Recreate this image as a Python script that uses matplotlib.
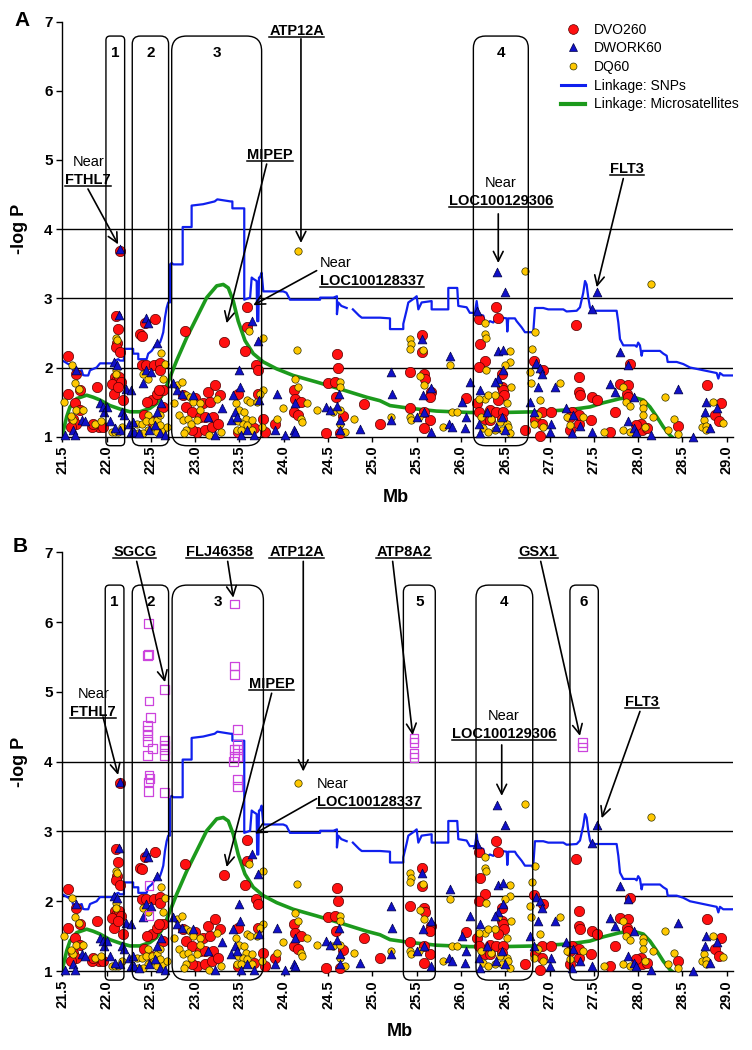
#!/usr/bin/env python3
"""
plot.py - association (-log P) and linkage along 21.5-29 Mb, panels A and B
"""
import numpy as np
import matplotlib
matplotlib.use('Agg')
import matplotlib.pyplot as plt
from matplotlib.lines import Line2D
from matplotlib.patches import FancyBboxPatch

# ---- data: (Mb, -log P) ----
DVO260 = [
    (21.57, 2.17), (21.65, 1.91), (21.57, 1.62), (21.70, 1.67), (21.64, 1.48), (21.70, 1.38),
    (21.62, 1.26), (21.65, 1.19), (21.60, 1.14), (21.89, 1.72), (21.91, 1.14), (21.83, 1.14),
    (21.85, 1.19), (21.96, 1.14),
    (22.15, 3.69), (22.11, 2.75), (22.13, 2.56), (22.12, 2.36), (22.11, 2.30), (22.15, 2.23),
    (22.09, 1.86), (22.11, 1.81), (22.14, 1.86), (22.06, 1.76), (22.16, 1.79), (22.08, 1.62),
    (22.18, 1.53), (22.13, 1.72),
    (22.38, 2.48), (22.40, 2.46), (22.43, 2.64), (22.55, 2.70), (22.40, 2.03), (22.45, 2.03),
    (22.53, 2.03), (22.60, 2.06), (22.60, 1.97), (22.51, 1.53), (22.57, 1.62), (22.64, 1.67),
    (22.42, 1.31), (22.50, 1.22), (22.64, 1.43), (22.59, 1.67), (22.46, 1.50),
    (22.89, 2.53), (22.86, 1.60), (22.90, 1.43), (22.96, 1.36), (23.15, 1.65), (23.22, 1.74),
    (23.09, 1.48), (23.17, 1.50), (23.05, 1.29), (23.11, 1.29), (23.20, 1.29), (23.28, 1.60),
    (23.32, 2.37), (23.02, 1.07), (22.96, 1.10), (23.11, 1.10), (23.19, 1.14), (23.48, 1.62),
    (23.56, 2.24), (23.59, 2.58), (23.59, 2.88), (23.69, 2.03), (23.71, 1.96), (23.71, 1.62),
    (23.48, 1.07), (23.66, 1.12), (23.77, 1.26), (23.79, 1.07), (23.00, 1.56), (23.26, 1.19),
    (23.90, 1.19), (24.11, 1.67), (24.13, 1.55), (24.20, 1.50), (24.11, 1.36), (24.16, 1.31),
    (24.50, 1.77), (24.60, 2.19), (24.61, 2.00), (24.58, 1.79), (24.59, 1.57), (24.67, 1.30),
    (24.48, 1.05), (24.63, 1.05), (24.90, 1.47), (25.09, 1.19),
    (25.42, 1.41), (25.43, 1.93), (25.56, 2.47), (25.56, 2.22), (25.58, 1.91), (25.59, 1.84),
    (25.66, 1.64), (25.65, 1.57), (25.58, 1.36), (25.65, 1.24), (25.58, 1.12), (26.06, 1.56),
    (26.40, 2.87), (26.42, 2.71), (26.20, 2.70), (26.21, 2.34), (26.27, 2.10), (26.20, 2.01),
    (26.46, 1.91), (26.46, 1.72), (26.48, 1.67), (26.49, 1.60), (26.42, 1.53), (26.18, 1.48),
    (26.20, 1.36), (26.33, 1.38), (26.40, 1.36), (26.48, 1.36), (26.46, 1.26), (26.27, 1.25),
    (26.33, 1.24), (26.72, 1.10),
    (26.82, 2.09), (26.93, 1.96), (26.91, 1.36), (27.02, 1.36), (26.84, 1.24), (26.91, 1.19),
    (26.89, 1.01), (27.25, 1.36), (27.23, 1.29), (27.33, 1.19), (27.23, 1.10), (27.33, 1.31),
    (27.30, 2.61), (27.33, 1.86), (27.33, 1.65), (27.34, 1.60), (27.48, 1.57), (27.53, 1.53),
    (27.47, 1.24), (27.68, 1.07), (27.74, 1.36), (27.79, 1.76), (27.91, 2.05), (27.89, 1.74),
    (27.87, 1.62), (27.89, 1.57), (28.03, 1.19), (28.04, 1.10), (28.10, 1.12), (27.98, 1.17),
    (28.45, 1.15), (28.78, 1.74), (28.94, 1.48), (28.87, 1.31), (28.91, 1.22),
]

DWORK60 = [
    (21.53, 1.02), (21.62, 1.10), (21.64, 1.02), (21.66, 1.96), (21.72, 1.24), (21.76, 1.22),
    (21.93, 1.48), (21.96, 1.43), (21.97, 1.36), (22.00, 1.43),
    (22.15, 3.71), (22.14, 2.76), (22.08, 2.08), (22.12, 2.04), (22.04, 1.22), (22.15, 1.10),
    (22.09, 1.12), (22.17, 1.36), (22.20, 1.31),
    (22.22, 1.69), (22.28, 1.68), (22.25, 1.19), (22.28, 1.07),
    (22.44, 2.71), (22.47, 2.64), (22.57, 2.36), (22.45, 1.96), (22.41, 1.77), (22.50, 1.93),
    (22.31, 1.07), (22.37, 1.05), (22.48, 1.10), (22.55, 1.17), (22.60, 1.05), (22.66, 1.02),
    (22.30, 1.21), (22.57, 1.36), (22.62, 1.48),
    (22.75, 1.77), (22.79, 1.67), (22.85, 1.62), (22.98, 1.60), (23.30, 1.41), (23.15, 1.29),
    (23.22, 1.02), (23.49, 1.96), (23.51, 1.72), (23.43, 1.60), (23.45, 1.36), (23.41, 1.24),
    (23.47, 1.29), (23.52, 1.02), (23.58, 1.10), (23.66, 1.02), (23.64, 2.67), (23.71, 2.39),
    (23.72, 1.53),
    (23.92, 1.62), (23.90, 1.10), (24.01, 1.02), (24.11, 1.10), (24.13, 1.07), (24.13, 1.48),
    (24.48, 1.43), (24.52, 1.38), (24.62, 1.62), (24.60, 1.45), (24.63, 1.24), (24.63, 1.10),
    (24.86, 1.11),
    (25.21, 1.93), (25.22, 1.61), (25.21, 1.24), (25.56, 2.41), (25.66, 1.71), (25.57, 1.60),
    (25.58, 1.36), (25.50, 1.29), (25.66, 1.07), (25.88, 2.17), (25.86, 1.19), (25.90, 1.14),
    (26.01, 1.50), (26.10, 1.79), (26.06, 1.29), (26.05, 1.12),
    (26.41, 3.38), (26.50, 3.09), (26.18, 2.82), (26.42, 2.24), (26.47, 2.26), (26.48, 1.96),
    (26.42, 1.84), (26.38, 1.79), (26.21, 1.67), (26.20, 1.19), (26.21, 1.05), (26.40, 1.14),
    (26.50, 1.10), (26.46, 1.29), (26.29, 1.36),
    (26.85, 2.06), (26.89, 2.00), (26.91, 1.91), (26.87, 1.72), (26.78, 1.50), (26.82, 1.36),
    (27.02, 1.19), (27.00, 1.07), (27.06, 1.72), (27.19, 1.41), (27.26, 1.31), (27.34, 1.15),
    (27.25, 1.05), (27.48, 1.07), (27.48, 2.84), (27.53, 3.09), (27.68, 1.76), (27.74, 1.65),
    (27.79, 2.22), (27.89, 2.03), (27.95, 1.57), (27.89, 1.22), (27.95, 1.12), (27.98, 1.07),
    (28.15, 1.02), (28.45, 1.69), (28.62, 1.00), (28.75, 1.36), (28.77, 1.50), (28.89, 1.41),
    (28.81, 1.12),
]

DQ60 = [
    (21.61, 2.04), (21.64, 1.77), (21.69, 1.69), (21.52, 1.50), (21.66, 1.38), (21.73, 1.38),
    (21.62, 1.24), (21.87, 1.19), (21.94, 1.22), (21.60, 1.30),
    (22.11, 2.43), (22.12, 2.40), (22.11, 1.97), (22.11, 1.91), (22.06, 1.07), (22.09, 1.07),
    (22.13, 1.07), (22.17, 1.14),
    (22.62, 2.21), (22.66, 2.05), (22.41, 1.91), (22.47, 1.84), (22.64, 1.84), (22.47, 1.31),
    (22.34, 1.19), (22.40, 1.19), (22.45, 1.22), (22.51, 1.22), (22.57, 1.24), (22.60, 1.31),
    (22.53, 1.14), (22.47, 1.10), (22.41, 1.05), (22.57, 1.07), (22.64, 1.10), (22.68, 1.14),
    (22.60, 1.17), (22.35, 1.05),
    (22.79, 1.74), (22.85, 1.79), (22.90, 1.60), (22.94, 1.57), (22.98, 1.50), (23.06, 1.48),
    (22.76, 1.48), (22.82, 1.31), (22.86, 1.24), (22.92, 1.26), (22.95, 1.19), (23.02, 1.24),
    (22.90, 1.10), (22.87, 1.05), (23.16, 1.02), (23.29, 1.07), (23.25, 1.55), (23.05, 1.38),
    (23.61, 2.53), (23.77, 2.43), (23.77, 1.67), (23.46, 1.48), (23.50, 1.38), (23.55, 1.36),
    (23.58, 1.53), (23.62, 1.50), (23.57, 1.26), (23.48, 1.22), (23.54, 1.19), (23.59, 1.17),
    (23.64, 1.24), (23.47, 1.10), (23.52, 1.10), (23.64, 1.10), (23.70, 1.50), (23.75, 1.14),
    (23.73, 1.62),
    (23.92, 1.26), (23.99, 1.41), (24.16, 3.69), (24.15, 2.25), (24.13, 1.83), (24.16, 1.72),
    (24.20, 1.26), (24.21, 1.21), (24.37, 1.38), (24.26, 1.48), (24.63, 1.79), (24.63, 1.72),
    (24.56, 1.36), (24.63, 1.38), (24.63, 1.19), (24.69, 1.07), (24.79, 1.26),
    (25.21, 1.29), (25.43, 1.29), (25.44, 1.24), (25.43, 2.41), (25.44, 2.34), (25.43, 2.27),
    (25.57, 2.25), (25.54, 1.88), (25.58, 1.74), (25.53, 1.29), (25.88, 2.03), (25.80, 1.14),
    (25.90, 1.36), (25.96, 1.36),
    (26.27, 2.64), (26.27, 2.48), (26.28, 2.43), (26.55, 2.24), (26.55, 2.08), (26.28, 1.97),
    (26.50, 2.03), (26.42, 1.77), (26.57, 1.72), (26.27, 1.55), (26.31, 1.60), (26.38, 1.60),
    (26.52, 1.48), (26.23, 1.29), (26.34, 1.26), (26.44, 1.21), (26.52, 1.19), (26.25, 1.12),
    (26.38, 1.10), (26.46, 1.10), (26.53, 1.14), (26.55, 1.05), (26.31, 1.07), (26.72, 3.39),
    (26.20, 1.55),
    (26.83, 2.51), (26.80, 2.27), (26.78, 1.93), (26.79, 1.77), (26.89, 1.53), (26.87, 1.31),
    (26.82, 1.19), (26.93, 1.14), (27.12, 1.77), (27.20, 1.29), (27.23, 1.17), (27.38, 1.29),
    (27.61, 1.07), (27.83, 1.72), (27.86, 1.50), (27.91, 1.45), (28.06, 1.48), (28.06, 1.41),
    (28.06, 1.31), (27.83, 1.10), (27.91, 1.07), (28.08, 1.14), (28.17, 1.29), (28.15, 3.21),
    (28.30, 1.58), (28.40, 1.26), (28.34, 1.10), (28.45, 1.04), (28.74, 1.24), (28.72, 1.14),
    (28.76, 1.16), (28.77, 1.10), (28.85, 1.50), (28.96, 1.20),
]

# open magenta squares, panel B only
EXTRA_B = [
    (22.47, 5.98), (22.47, 5.54), (22.46, 5.52), (22.65, 5.03), (22.48, 4.87), (22.50, 4.63),
    (22.46, 4.52), (22.46, 4.45), (22.46, 4.37), (22.46, 4.29), (22.52, 4.19), (22.46, 4.09),
    (22.65, 4.31), (22.65, 4.24), (22.65, 4.17), (22.65, 4.09), (22.48, 3.81), (22.49, 3.76),
    (22.47, 3.71), (22.47, 3.57), (22.65, 3.56), (22.48, 2.23), (22.48, 1.80),
    (23.44, 6.26), (23.44, 5.37), (23.44, 5.25), (23.475, 4.46), (23.475, 4.25), (23.44, 4.17),
    (23.475, 4.17), (23.44, 4.07), (23.475, 4.07), (23.43, 4.00), (23.475, 3.75), (23.475, 3.64),
    (25.47, 4.33), (25.47, 4.27), (25.47, 4.12), (25.47, 4.06), (27.37, 4.28), (27.37, 4.21),
]

# linkage curves (Mb, LOD-scale); NaN = gap in the SNP trace
LINK_SNP = [
    (21.50, 2.10), (21.53, 2.08), (21.568, 2.05), (21.606, 2.05), (21.62, 1.96), (21.643, 1.94),
    (21.68, 1.94), (21.719, 1.96), (21.735, 1.89), (21.756, 1.885), (21.793, 1.885),
    (21.813, 1.96), (21.85, 1.98), (21.888, 2.00), (21.926, 2.06), (22.076, 2.06), (22.095, 2.10),
    (22.132, 2.12), (22.151, 2.10), (22.196, 2.10), (22.196, 2.27), (22.30, 2.27), (22.30, 2.20),
    (22.358, 2.20), (22.358, 2.12), (22.452, 2.12), (22.47, 2.20), (22.509, 2.24), (22.546, 2.31),
    (22.565, 2.34), (22.603, 2.36), (22.622, 2.43), (22.64, 2.51), (22.659, 2.72), (22.678, 2.86),
    (22.696, 2.94), (22.716, 2.94), (22.716, 3.49), (22.735, 3.51), (22.753, 3.49),
    (22.859, 3.49), (22.859, 4.03), (22.96, 4.03), (22.96, 4.34), (23.09, 4.36), (23.22, 4.40),
    (23.25, 4.43), (23.40, 4.40), (23.42, 4.40), (23.42, 4.30), (23.554, 4.30), (23.554, 2.98),
    (23.60, 3.00), (23.62, 3.01), (23.638, 3.30), (23.657, 3.28), (23.694, 3.25), (23.70, 2.67),
    (23.713, 2.67), (23.72, 3.30), (23.731, 3.30), (23.75, 3.37), (23.769, 3.10), (23.994, 3.10),
    (24.03, 3.08), (24.07, 2.98), (24.41, 2.98), (24.41, 3.01), (24.56, 3.01), (24.60, 3.03),
    (24.60, 2.77), (24.615, 2.94), (24.65, 2.89), (24.71, 2.86), (np.nan, np.nan),
    (24.78, 2.84), (24.85, 2.75), (24.88, 2.72), (25.086, 2.72), (25.199, 2.71), (25.199, 2.555),
    (25.349, 2.555), (25.349, 2.63), (25.387, 2.83), (25.406, 2.94), (25.462, 2.99),
    (25.50, 3.03), (25.519, 2.84), (25.556, 2.94), (25.669, 2.96), (25.669, 2.84),
    (25.857, 2.84), (25.857, 3.15), (25.958, 3.15), (25.97, 2.89), (26.064, 2.87), (26.10, 2.79),
    (26.158, 2.79), (26.177, 2.96), (26.196, 2.77), (26.252, 2.75), (26.27, 2.65), (26.308, 2.65),
    (26.327, 2.67), (26.365, 2.65), (26.383, 2.69), (26.44, 2.69), (26.459, 2.72), (26.516, 2.71),
    (26.523, 2.52), (26.534, 2.71), (26.609, 2.71), (26.628, 2.67), (26.685, 2.58),
    (26.722, 2.51), (26.816, 2.51), (26.835, 2.86), (26.929, 2.86), (26.985, 2.84),
    (27.155, 2.84), (27.192, 2.81), (27.306, 2.82), (27.343, 2.87), (27.38, 3.08), (27.40, 3.25),
    (27.418, 3.20), (27.437, 3.01), (27.456, 2.87), (27.475, 2.82), (27.757, 2.82),
    (27.776, 2.65), (27.795, 2.41), (27.832, 2.32), (27.964, 2.32), (27.983, 2.30), (28.00, 2.36),
    (28.02, 2.32), (28.039, 2.17), (28.05, 2.24), (28.246, 2.24), (28.284, 2.20), (28.322, 2.17),
    (28.333, 2.08), (28.435, 2.08), (28.509, 2.05), (28.585, 2.00), (28.735, 1.96), (28.81, 1.94),
    (28.886, 1.92), (28.905, 1.84), (28.923, 1.92), (28.96, 1.885), (29.073, 1.885),
]

LINK_MS = [
    (21.50, 1.02), (21.55, 1.29), (21.587, 1.43), (21.662, 1.55), (21.775, 1.60), (21.85, 1.57),
    (21.926, 1.53), (22.038, 1.45), (22.151, 1.40), (22.264, 1.36), (22.377, 1.36), (22.49, 1.41),
    (22.565, 1.48), (22.64, 1.62), (22.716, 1.86), (22.791, 2.10), (22.904, 2.43), (23.017, 2.72),
    (23.13, 3.01), (23.243, 3.18), (23.317, 3.20), (23.374, 3.15), (23.43, 2.96), (23.486, 2.67),
    (23.562, 2.39), (23.656, 2.20), (23.769, 2.08), (23.92, 1.98), (24.107, 1.885), (24.371, 1.79),
    (24.634, 1.69), (24.936, 1.57), (25.086, 1.52), (25.199, 1.45), (25.424, 1.41), (25.726, 1.37),
    (26.10, 1.35), (26.477, 1.35), (26.854, 1.36), (27.23, 1.39), (27.456, 1.43), (27.606, 1.49),
    (27.795, 1.55), (27.945, 1.57), (28.058, 1.53), (28.133, 1.43), (28.209, 1.29), (28.284, 1.14),
    (28.359, 1.02), (28.378, 1.00),
]

XTICKS = [21.5, 22.0, 22.5, 23.0, 23.5, 24.0, 24.5, 25.0, 25.5, 26.0, 26.5, 27.0, 27.5, 28.0, 28.5, 29.0]
YTICKS = [1, 2, 3, 4, 5, 6, 7]

# candidate regions: (label, start Mb, end Mb)
REGIONS_A = [('1', 21.993, 22.204), ('2', 22.29, 22.70), ('3', 22.735, 23.75), ('4', 26.14, 26.76)]
REGIONS_B = [('1', 21.985, 22.196), ('2', 22.29, 22.70), ('3', 22.74, 23.77),
             ('5', 25.35, 25.71), ('4', 26.17, 26.81), ('6', 27.23, 27.55)]

# ---- layout ----
W, H, DPI = 7.52, 10.5, 100
X0, X1 = 21.5, 29.07
C_RED, C_BLUE, C_YEL, C_MAG = '#ff1010', '#1010c8', '#ffc800', '#cc44dd'
C_SNP, C_MS = '#1020ee', '#1c9a1c'

# (gene, has 'Near', text x, text y, ha, arrow start, arrow tip)
NOTES_A = [
    ('FTHL7', True, 21.793, 4.71, 'center', (21.79, 4.58), (22.13, 3.78)),
    ('ATP12A', False, 24.146, 6.86, 'center', (24.194, 6.75), (24.194, 3.80)),
    ('MIPEP', False, 23.844, 5.07, 'center', (23.807, 4.94), (23.355, 2.64)),
    ('LOC100128337', True, 24.409, 3.25, 'left', (24.371, 3.40), (23.656, 2.90)),
    ('LOC100129306', True, 26.449, 4.40, 'center', (26.421, 4.22), (26.421, 3.51)),
    ('FLT3', False, 27.87, 4.87, 'center', (27.832, 4.73), (27.532, 3.16)),
]
NOTES_B = [
    ('SGCG', False, 22.32, 7.01, 'center', (22.34, 6.87), (22.659, 5.14)),
    ('FLJ46358', False, 23.272, 7.01, 'center', (23.367, 6.87), (23.43, 6.35)),
    ('ATP12A', False, 24.146, 7.01, 'center', (24.22, 6.87), (24.22, 3.86)),
    ('ATP8A2', False, 25.357, 7.01, 'center', (25.229, 6.87), (25.455, 4.38)),
    ('GSX1', False, 26.872, 7.01, 'center', (26.90, 6.87), (27.343, 4.37)),
    ('FLT3', False, 28.04, 4.86, 'center', (28.02, 4.72), (27.588, 3.19)),
    ('FTHL7', True, 21.85, 4.71, 'center', (21.96, 4.64), (22.13, 3.81)),
    ('MIPEP', False, 23.863, 5.11, 'center', (23.863, 4.98), (23.355, 2.49)),
    ('LOC100128337', True, 24.371, 3.42, 'left', (24.371, 3.47), (23.675, 2.97)),
    ('LOC100129306', True, 26.485, 4.40, 'center', (26.46, 4.24), (26.46, 3.51)),
]


def draw_regions(fig, ax, regions, top, bottom, num_y):
    pos = ax.get_position()
    px_x = pos.width * W * DPI / (X1 - X0)
    px_y = pos.height * H * DPI / 6.0
    for lab, a, b in regions:
        r_px = min(0.22 * (b - a) * px_x, 15)
        box = FancyBboxPatch((a, bottom), b - a, top - bottom,
                             boxstyle=f'round,pad=0,rounding_size={r_px / px_x}',
                             mutation_aspect=px_x / px_y, fc='none', ec='black',
                             lw=1.0, clip_on=False, zorder=6)
        ax.add_patch(box)
        ax.text((a + b) / 2, num_y, lab, ha='center', va='center',
                fontsize=11, fontweight='bold', zorder=7)


def draw_notes(ax, notes):
    genes = []
    for gene, near, tx, ty, ha, start, tip in notes:
        t = ax.text(tx, ty, gene, ha=ha, va='center', fontsize=10.5,
                    fontweight='bold', zorder=8)
        genes.append(t)
        if near:
            ax.text(tx, ty + 0.26, 'Near', ha=ha, va='center', fontsize=10.5, zorder=8)
        ax.annotate('', xy=tip, xytext=start, zorder=8,
                    arrowprops=dict(arrowstyle='->,head_length=0.5,head_width=0.25',
                                    lw=1.2, color='black', shrinkA=0, shrinkB=0,
                                    mutation_scale=14))
    return genes


def draw_panel(fig, rect, regions, top, num_y, notes, grid_y, extra=None):
    ax = fig.add_axes(rect)
    ax.set_xlim(X0, X1)
    ax.set_ylim(1, 7)
    for s in ('top', 'right'):
        ax.spines[s].set_visible(False)
    for s in ('left', 'bottom'):
        ax.spines[s].set_linewidth(1.0)

    for gy in grid_y:
        ax.axhline(gy, color='black', lw=1.0, zorder=1)

    snp = np.array(LINK_SNP)
    ms = np.array(LINK_MS)
    ax.plot(snp[:, 0], snp[:, 1], color=C_SNP, lw=1.6, zorder=2)
    ax.plot(ms[:, 0], ms[:, 1], color=C_MS, lw=2.6, zorder=2)

    red, blu, yel = np.array(DVO260), np.array(DWORK60), np.array(DQ60)
    ax.scatter(red[:, 0], red[:, 1], s=55, c=C_RED, edgecolors='#550000', linewidths=0.5,
               zorder=3, clip_on=False)
    ax.scatter(yel[:, 0], yel[:, 1], s=28, c=C_YEL, edgecolors='#333300', linewidths=0.5,
               zorder=4, clip_on=False)
    ax.scatter(blu[:, 0], blu[:, 1], s=40, marker='^', c=C_BLUE, edgecolors='#000044',
               linewidths=0.5, zorder=5, clip_on=False)
    if extra is not None:
        ex = np.array(extra)
        ax.scatter(ex[:, 0], ex[:, 1], s=40, marker='s', facecolors='none',
                   edgecolors=C_MAG, linewidths=0.9, zorder=5)

    ax.set_xticks(XTICKS)
    ax.set_xticklabels([f'{t:.1f}' for t in XTICKS], rotation=90,
                       fontsize=10.5, fontweight='bold')
    ax.set_yticks(YTICKS)
    ax.set_yticklabels([str(t) for t in YTICKS], fontsize=11, fontweight='bold')
    ax.tick_params(axis='x', direction='out', length=3.5, width=1, pad=3)
    ax.tick_params(axis='y', direction='out', length=4, width=1, pad=3)

    draw_regions(fig, ax, regions, top, 0.87, num_y)
    genes = draw_notes(ax, notes)
    return ax, genes


def underline(fig, texts):
    fig.canvas.draw()
    rnd = fig.canvas.get_renderer()
    inv = fig.transFigure.inverted()
    for t in texts:
        bb = t.get_window_extent(rnd)
        (xa, ya), (xb, _) = inv.transform([(bb.x0, bb.y0 + 1), (bb.x1, bb.y0 + 1)])
        fig.add_artist(Line2D([xa, xb], [ya, ya], transform=fig.transFigure,
                              color='black', lw=1.1))


def main():
    plt.rcParams['font.family'] = ['Liberation Sans', 'DejaVu Sans']
    fig = plt.figure(figsize=(W, H), dpi=DPI)

    ax_a, g_a = draw_panel(fig, [0.0828, 0.5841, 0.8919, 0.3954], REGIONS_A, 6.79, 6.55,
                           NOTES_A, [2, 3, 4])
    ax_b, g_b = draw_panel(fig, [0.0828, 0.0752, 0.8919, 0.3988], REGIONS_B, 6.53, 6.29,
                           NOTES_B, [2.07, 3, 4], extra=EXTRA_B)

    # panel letters and axis titles
    fig.text(22 / 752, 1 - 20 / 1050, 'A', fontsize=15, fontweight='bold', ha='center', va='center')
    fig.text(20 / 752, 1 - 547 / 1050, 'B', fontsize=15, fontweight='bold', ha='center', va='center')
    for yc in (229, 762):
        fig.text(19 / 752, 1 - yc / 1050, '-log P', fontsize=13, fontweight='bold',
                 rotation=90, ha='center', va='center')
    fig.text(396 / 752, 1 - 497 / 1050, 'Mb', fontsize=13, fontweight='bold', ha='center', va='center')
    fig.text(400 / 752, 1 - 1032 / 1050, 'Mb', fontsize=13, fontweight='bold', ha='center', va='center')

    handles = [
        Line2D([], [], ls='', marker='o', ms=7, mfc=C_RED, mec='#550000', mew=0.5),
        Line2D([], [], ls='', marker='^', ms=5.5, mfc=C_BLUE, mec='#000044', mew=0.5),
        Line2D([], [], ls='', marker='o', ms=5, mfc=C_YEL, mec='#333300', mew=0.5),
        Line2D([], [], color=C_SNP, lw=2.2),
        Line2D([], [], color=C_MS, lw=3),
    ]
    labels = ['DVO260', 'DWORK60', 'DQ60', 'Linkage: SNPs', 'Linkage: Microsatellites']
    ax_a.legend(handles, labels, loc='upper left', bbox_to_anchor=(561 / 752, 1 - 22.5 / 1050),
                bbox_transform=fig.transFigure, frameon=False, fontsize=10,
                handlelength=1.7, handletextpad=0.65, labelspacing=0.34,
                borderpad=0, borderaxespad=0)

    underline(fig, g_a + g_b)
    fig.savefig('out.png', dpi=DPI)


if __name__ == '__main__':
    main()
